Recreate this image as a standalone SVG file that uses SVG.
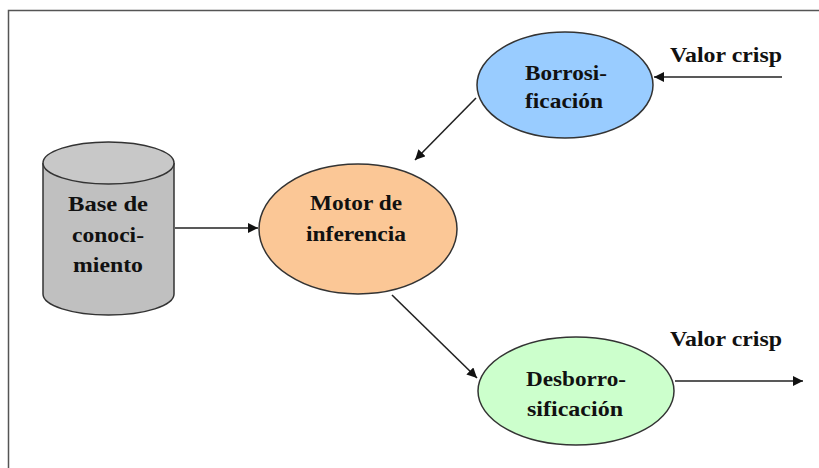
<svg xmlns="http://www.w3.org/2000/svg" width="819" height="468" viewBox="0 0 819 468">
  <style>
    text { font-family: "Liberation Serif", "DejaVu Serif", "Times New Roman", Times, serif; font-weight: 700; font-size: 21px; fill: #111; text-anchor: middle; }
    .edge { stroke: #222; stroke-width: 1.6; fill: none; marker-end: url(#arrow); }
    .shape { stroke: #333; stroke-width: 1.5; }
  </style>
  <defs>
    <marker id="arrow" viewBox="0 0 10 10" refX="10" refY="5" markerWidth="10" markerHeight="10" markerUnits="userSpaceOnUse" orient="auto">
      <path d="M0,0 L10,5 L0,10 Z" fill="#111"/>
    </marker>
  </defs>
  <rect width="819" height="468" fill="#fff"/>
  <!-- outer frame, runs off the right and bottom edges -->
  <rect x="8.5" y="10.5" width="830" height="480" fill="none" stroke="#555" stroke-width="1.5"/>

  <g id="base-conocimiento">
    <path class="shape" d="M43,163 L43,294 A65.5,21 0 0 0 174,294 L174,163" fill="#c0c0c0"/>
    <ellipse class="shape" cx="108.5" cy="163" rx="65.5" ry="21" fill="#c8c8c8"/>
    <text font-family="Liberation Serif, serif" x="108" y="211" textLength="80" lengthAdjust="spacingAndGlyphs">Base de</text>
    <text font-family="Liberation Serif, serif" x="108" y="242" textLength="72" lengthAdjust="spacingAndGlyphs">conoci-</text>
    <text font-family="Liberation Serif, serif" x="108" y="272" textLength="70" lengthAdjust="spacingAndGlyphs">miento</text>
  </g>

  <g id="motor-inferencia">
    <ellipse class="shape" cx="358" cy="229" rx="99" ry="65" fill="#fbc796"/>
    <text font-family="Liberation Serif, serif" x="356" y="210" textLength="92" lengthAdjust="spacingAndGlyphs">Motor de</text>
    <text font-family="Liberation Serif, serif" x="356" y="241" textLength="100" lengthAdjust="spacingAndGlyphs">inferencia</text>
  </g>

  <g id="borrosificacion">
    <ellipse class="shape" cx="565" cy="85" rx="88" ry="53" fill="#99ccff"/>
    <text font-family="Liberation Serif, serif" x="566" y="80" textLength="82" lengthAdjust="spacingAndGlyphs">Borrosi-</text>
    <text font-family="Liberation Serif, serif" x="564" y="108" textLength="78" lengthAdjust="spacingAndGlyphs">ficación</text>
  </g>

  <g id="desborrosificacion">
    <ellipse class="shape" cx="576" cy="391" rx="98" ry="54" fill="#ccffcc"/>
    <text font-family="Liberation Serif, serif" x="576" y="386" textLength="100" lengthAdjust="spacingAndGlyphs">Desborro-</text>
    <text font-family="Liberation Serif, serif" x="575" y="416" textLength="96" lengthAdjust="spacingAndGlyphs">sificación</text>
  </g>

  <g id="crisp-labels">
    <text font-family="Liberation Serif, serif" x="726" y="62" textLength="112" lengthAdjust="spacingAndGlyphs">Valor crisp</text>
    <text font-family="Liberation Serif, serif" x="726" y="346" textLength="112" lengthAdjust="spacingAndGlyphs">Valor crisp</text>
  </g>

  <g id="connectors">
    <line class="edge" x1="782" y1="77" x2="654" y2="77"/>
    <line class="edge" x1="476" y1="98" x2="415" y2="160"/>
    <line class="edge" x1="175" y1="228" x2="258" y2="228"/>
    <line class="edge" x1="392" y1="295" x2="477" y2="378"/>
    <line class="edge" x1="675" y1="381" x2="803" y2="381"/>
  </g>
</svg>
